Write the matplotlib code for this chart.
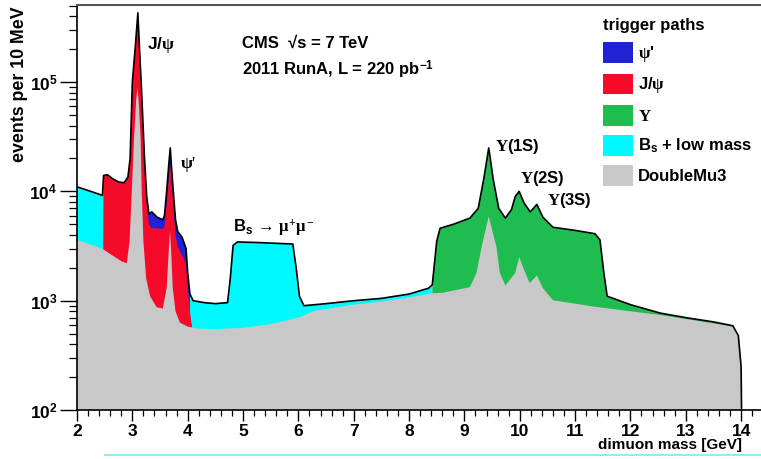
import numpy as np
import matplotlib
matplotlib.use("Agg")
import matplotlib.pyplot as plt
from matplotlib.patches import Patch
from matplotlib.lines import Line2D
from matplotlib.ticker import MultipleLocator, LogLocator, NullFormatter

plt.rcParams["font.family"] = ["Liberation Sans", "DejaVu Sans"]
plt.rcParams["font.weight"] = "bold"
plt.rcParams["mathtext.fontset"] = "custom"
plt.rcParams["mathtext.rm"] = "Liberation Serif"
plt.rcParams["mathtext.it"] = "Liberation Serif"
plt.rcParams["mathtext.bf"] = "Liberation Sans:bold"
plt.rcParams["mathtext.sf"] = "Liberation Sans"

# all triggers together (black outline), events per 10 MeV
total_mass = [2.00, 2.20, 2.46, 2.48, 2.55, 2.65, 2.75, 2.85, 2.92, 2.96, 3.00, 3.05, 3.10,
              3.13, 3.16, 3.22, 3.26, 3.30, 3.35, 3.45, 3.55, 3.58, 3.62, 3.66, 3.685, 3.71,
              3.74, 3.78, 3.82, 3.90, 3.97, 4.00, 4.04, 4.10, 4.30, 4.50, 4.72, 4.77, 4.82,
              4.90, 5.30, 5.90, 5.96, 6.02, 6.10, 6.50, 7.00, 7.50, 8.00, 8.35, 8.42, 8.50,
              8.56, 8.80, 9.10, 9.25, 9.35, 9.44, 9.52, 9.62, 9.74, 9.85, 9.92, 9.99, 10.08,
              10.19, 10.31, 10.42, 10.60, 11.00, 11.36, 11.45, 11.52, 11.58, 12.00, 12.54,
              13.00, 13.50, 13.85, 13.95, 14.00, 14.05]
total_events = [1.10e4, 1.02e4, 9.2e3, 1.40e4, 1.42e4, 1.30e4, 1.22e4, 1.20e4, 1.35e4, 2.0e4,
                1.0e5, 2.0e5, 4.3e5, 2.0e5, 1.0e5, 2.0e4, 9.0e3, 6.2e3, 6.5e3, 5.8e3, 5.5e3,
                6.0e3, 1.0e4, 1.8e4, 2.5e4, 1.6e4, 1.0e4, 5.5e3, 4.3e3, 3.8e3, 3.0e3, 1.8e3,
                1.15e3, 1.0e3, 960, 940, 960, 1.6e3, 3.2e3, 3.45e3, 3.4e3, 3.3e3, 2.0e3, 1.1e3,
                900, 940, 1.0e3, 1.05e3, 1.15e3, 1.3e3, 1.4e3, 3.5e3, 4.6e3, 5.0e3, 5.7e3,
                7.0e3, 1.3e4, 2.5e4, 1.3e4, 7.0e3, 5.7e3, 6.8e3, 9.0e3, 1.0e4, 7.8e3, 6.5e3,
                7.6e3, 5.8e3, 4.7e3, 4.4e3, 4.1e3, 3.6e3, 1.8e3, 1.1e3, 920, 770, 700, 640,
                590, 480, 250, 1]

# upper edge of the J/psi trigger layer
jpsi_mass = [2.475, 2.48, 2.55, 2.65, 2.75, 2.85, 2.92, 2.96, 3.00, 3.05, 3.10, 3.13, 3.16,
             3.22, 3.26, 3.30, 3.35, 3.45, 3.55, 3.58, 3.62, 3.66, 3.685, 3.71, 3.74, 3.78,
             3.82, 3.90, 3.97, 4.00, 4.04, 4.08]
jpsi_events = [3.0e3, 1.40e4, 1.42e4, 1.30e4, 1.22e4, 1.20e4, 1.35e4, 2.0e4, 1.0e5, 2.0e5,
               4.3e5, 2.0e5, 1.0e5, 2.0e4, 8.0e3, 5.0e3, 4.6e3, 4.6e3, 4.5e3, 4.8e3, 7.5e3,
               1.3e4, 1.75e4, 1.2e4, 7.5e3, 4.0e3, 3.1e3, 2.6e3, 2.2e3, 1.3e3, 800, 570]

# DoubleMu3 trigger
dimu3_mass = [2.00, 2.45, 2.80, 2.90, 2.95, 2.99, 3.03, 3.07, 3.095, 3.12, 3.15, 3.17, 3.20,
              3.25, 3.32, 3.44, 3.55, 3.62, 3.66, 3.68, 3.70, 3.73, 3.78, 3.86, 4.00, 4.20,
              4.50, 5.00, 5.50, 6.00, 6.30, 7.00, 7.50, 8.00, 8.40, 8.60, 9.10, 9.22, 9.31,
              9.44, 9.58, 9.64, 9.74, 9.92, 9.99, 10.10, 10.18, 10.31, 10.42, 10.60, 11.36,
              12.00, 12.54, 13.00, 13.50, 13.85, 13.95, 14.00, 14.05]
dimu3_events = [3.6e3, 3.0e3, 2.3e3, 2.2e3, 3.5e3, 1.0e4, 3.0e4, 7.0e4, 8.9e4, 6.0e4, 3.0e4,
                1.0e4, 3.5e3, 1.6e3, 1.1e3, 870, 850, 1.3e3, 3.0e3, 4.4e3, 3.0e3, 1.3e3, 800,
                630, 580, 555, 550, 565, 610, 700, 810, 920, 985, 1.07e3, 1.17e3, 1.18e3,
                1.33e3, 1.8e3, 3.1e3, 5.9e3, 3.1e3, 1.8e3, 1.38e3, 1.8e3, 2.5e3, 1.8e3, 1.45e3,
                1.7e3, 1.3e3, 1.01e3, 880, 800, 740, 680, 620, 580, 470, 240, 1]

psi2s_range = (3.22, 4.04)
upsilon_start = 8.42

legend_labels = [r"$\psi$'", r"$\mathbf{J/}\psi$", r"$\Upsilon$",
                 r"B$_{\mathbf{s}}$ + low mass", "DoubleMu3"]
legend_colors = ["#2121d6", "#f50a2a", "#1fbd4f", "#00f8ff", "#c8c8c8"]

x_ticks = list(range(2, 15))
y_ticks = [1e2, 1e3, 1e4, 1e5]
y_ticklabels = [r"$\mathbf{10^{2}}$", r"$\mathbf{10^{3}}$", r"$\mathbf{10^{4}}$", r"$\mathbf{10^{5}}$"]

m = np.array(total_mass)
n = np.array(total_events)

fig = plt.figure(figsize=(7.61, 4.59), dpi=100)
ax = fig.add_axes([77 / 761, 49 / 459, 689 / 761, 405 / 459])

low = m <= upsilon_start
ax.fill_between(m[low], n[low], 1, color=legend_colors[3], lw=0)
high = m >= upsilon_start
ax.fill_between(m[high], n[high], 1, color=legend_colors[2], lw=0)
psi = (m >= psi2s_range[0]) & (m <= psi2s_range[1])
ax.fill_between(m[psi], n[psi], 1, color=legend_colors[0], lw=0)
ax.fill_between(jpsi_mass, jpsi_events, 1, color=legend_colors[1], lw=0)
ax.fill_between(dimu3_mass, dimu3_events, 1, color=legend_colors[4], lw=0)
ax.plot(m, n, color="black", lw=1.2)

ax.set_yscale("log")
ax.set_xlim(2, 14.45)
ax.set_ylim(1e2, 10 ** (2 + 405 / 109.3))

ax.set_xticks(x_ticks)
ax.set_xticklabels([str(t) for t in x_ticks])
ax.xaxis.set_minor_locator(MultipleLocator(0.2))
ax.set_yticks(y_ticks)
ax.set_yticklabels(y_ticklabels)
ax.yaxis.set_minor_locator(LogLocator(base=10, subs=np.arange(2, 10)))
ax.yaxis.set_minor_formatter(NullFormatter())
ax.tick_params(axis="both", which="major", direction="out", labelsize=12.5, width=1.0)
ax.tick_params(axis="y", which="major", length=12, pad=2)
ax.tick_params(axis="y", which="minor", direction="out", length=6, width=0.9)
ax.tick_params(axis="x", which="major", length=8, pad=2)
ax.tick_params(axis="x", which="minor", direction="out", length=4, width=0.9)
for lab in ax.get_xticklabels():
    lab.set_fontweight("bold")

ax.spines["right"].set_visible(False)
ax.spines["top"].set_color("#555555")
ax.spines["top"].set_linewidth(1.5)
ax.spines["left"].set_linewidth(1.2)
ax.spines["bottom"].set_linewidth(1.2)

fig.text(20 / 761, 1 - 6 / 459, "events per 10 MeV", rotation=90, ha="center", va="top",
         fontsize=12.8, fontweight="bold")
fig.text(742 / 761, 1 - 445 / 459, "dimuon mass [GeV]", ha="right", va="center",
         fontsize=11, fontweight="bold")

ax.text(3.52, 2.2e5, r"$\mathbf{J/}\psi$", ha="center", va="center", fontsize=12.5)
ax.text(4.01, 1.78e4, r"$\psi$'", ha="center", va="center", fontsize=12.5, fontweight="normal",
        family="Liberation Serif")
ax.text(4.98, 2.28e5, "CMS  \u221as = 7 TeV", ha="left", va="center", fontsize=12)
ax.text(4.98, 1.29e5, r"2011 RunA, L = 220 pb$^{\mathbf{-1}}$", ha="left", va="center",
        fontsize=12)
ax.text(4.82, 4.7e3, r"$\mathbf{B_{s}}\,\rightarrow\,\mu^{+}\mu^{-}$", ha="left", va="center",
        fontsize=12)
for xm, yv, lab in [(9.555, 2.55e4, "1S"), (10.006, 1.32e4, "2S"), (10.494, 8.3e3, "3S")]:
    ax.text(xm, yv, r"$\Upsilon\mathbf{(%s)}$" % lab, ha="left", va="center", fontsize=12)

handles = [Patch(facecolor=c, edgecolor="none") for c in legend_colors]
leg = fig.legend(handles, legend_labels, loc="upper left",
                 bbox_to_anchor=(595 / 761, 1 - 10 / 459), frameon=False,
                 title="trigger paths", alignment="left", borderpad=0,
                 handlelength=1.8, handleheight=1.55, handletextpad=0.3,
                 labelspacing=0.55, fontsize=12,
                 title_fontproperties={"size": 12, "weight": "bold"})

fig.add_artist(Line2D([105 / 761, 1], [4 / 459, 4 / 459], color="#8feeee", lw=1.5))

fig.savefig("out.png", dpi=100)
